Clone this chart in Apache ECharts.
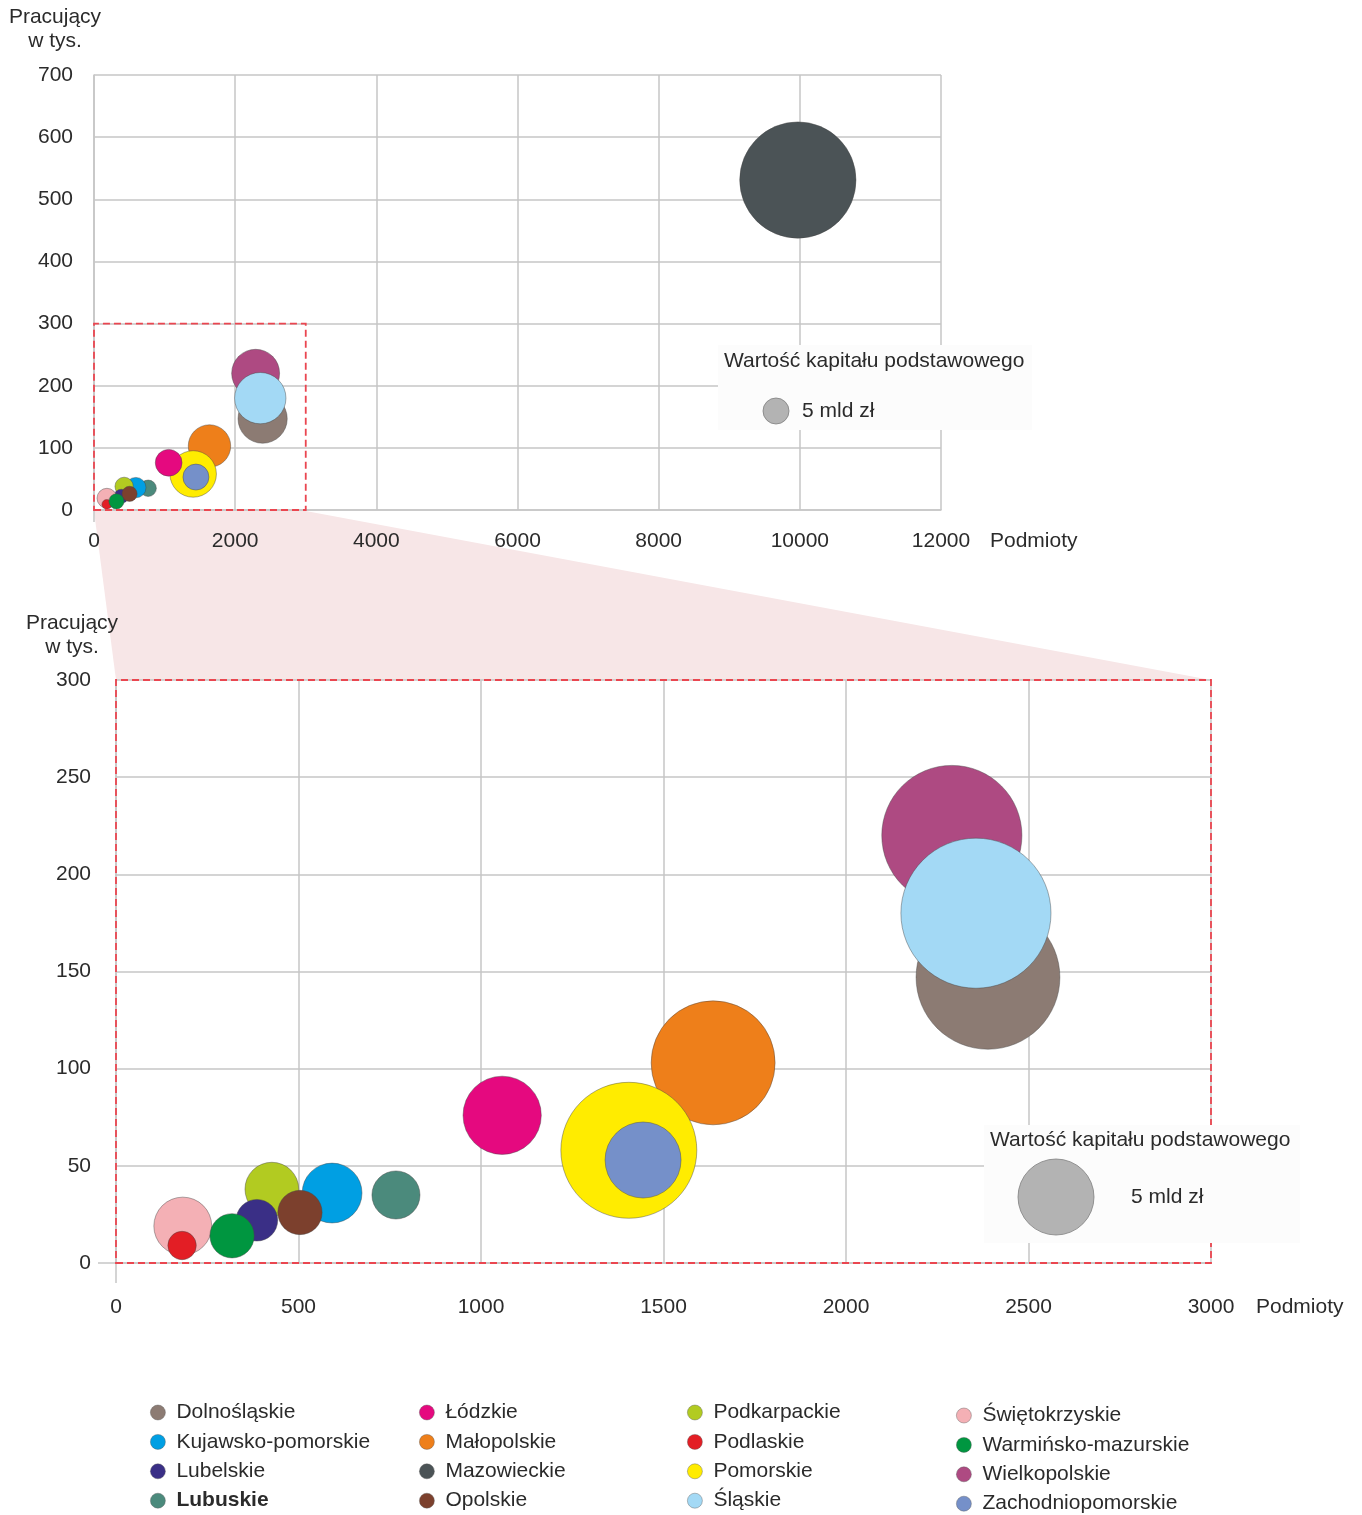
<!DOCTYPE html>
<html>
<head>
<meta charset="utf-8">
<script src="https://cdn.jsdelivr.net/npm/echarts@6/dist/echarts.min.js"></script>
<style>
html,body{margin:0;padding:0;background:#fff;}
#main{width:1362px;height:1515px;}
</style>
</head>
<body>
<div id="main"></div>
<script>
// ---------- DATA ----------
const regions = ['Dolnośląskie','Kujawsko-pomorskie','Lubelskie','Lubuskie',
  'Łódzkie','Małopolskie','Mazowieckie','Opolskie',
  'Podkarpackie','Podlaskie','Pomorskie','Śląskie',
  'Świętokrzyskie','Warmińsko-mazurskie','Wielkopolskie','Zachodniopomorskie'];
const colors = ['#8C7B73','#009FE3','#3A2F86','#4B8A7C',
  '#E5097F','#EE7F1A','#4B5356','#7C402D',
  '#B2CB21','#E31E25','#FFEC00','#A3D9F5',
  '#F4B0B5','#009640','#AE4A82','#7590C9'];
// Podmioty (number of entities)
const entities = [2389, 592, 386, 767, 1058, 1636, 9972, 504, 427, 181, 1405, 2356, 183, 318, 2290, 1444];
// Pracujący w tys. (employees, thousands)
const employees = [147, 36, 22, 35, 76, 103, 531, 26, 38, 9, 58, 180, 19, 14, 220, 53];
// Wartość kapitału podstawowego, mld zł (bubble size)
const capital = [17.9, 3.1, 1.5, 2.0, 5.3, 13.3, 100, 1.7, 2.5, 0.7, 16.0, 19.5, 2.9, 1.7, 17.0, 5.0];
const refCapital = 5; // bubble legend: 5 mld zł
const drawOrder = ['Dolnośląskie','Wielkopolskie','Śląskie','Małopolskie','Pomorskie','Zachodniopomorskie',
  'Łódzkie','Mazowieckie','Lubuskie','Kujawsko-pomorskie','Podkarpackie','Lubelskie','Opolskie',
  'Świętokrzyskie','Podlaskie','Warmińsko-mazurskie'];
const topXTicks = {min:0, max:12000, interval:2000};
const topYTicks = {min:0, max:700, interval:100};
const botXTicks = {min:0, max:3000, interval:500};
const botYTicks = {min:0, max:300, interval:50};
const zoomBox = [[0,0],[3000,300]];

// ---------- STYLE ----------
const FONT = '"Liberation Sans", Arial, sans-serif';
const FS = 21;
const TXT = '#2b2b2b';
const GRIDC = '#c6c6c6';
const R_TOP = 13, R_BOT = 38; // radius of the 5 mld zł bubble in each panel
function radius(R, v){ return R*Math.sqrt(v/refCapital); }

const chart = echarts.init(document.getElementById('main'), null, {renderer:'canvas'});

function axisCommon(t, margin){
  return {
    type:'value', min:t.min, max:t.max, interval:t.interval,
    axisLine:{show:true, lineStyle:{color:GRIDC, width:1.5}},
    axisTick:{show:false},
    splitLine:{show:true, lineStyle:{color:GRIDC, width:1.5}},
    axisLabel:{color:TXT, fontSize:FS, fontFamily:FONT, margin:margin, formatter: v => String(v)}
  };
}

const series = [];
drawOrder.forEach((name, k) => {
  const i = regions.indexOf(name);
  const base = {
    name: name, type:'scatter', symbol:'circle',
    itemStyle:{color:colors[i], borderColor:'rgba(70,70,70,0.55)', borderWidth:0.8, opacity:1},
    emphasis:{disabled:true},
    data:[[entities[i], employees[i], capital[i]]]
  };
  const top = Object.assign({}, base, {xAxisIndex:0, yAxisIndex:0,
    symbolSize: v => 2*radius(R_TOP, v[2])});
  const bot = Object.assign({}, base, {xAxisIndex:1, yAxisIndex:1,
    symbolSize: v => 2*radius(R_BOT, v[2])});
  if (k === 0) {
    const ma = {silent:true, z:5,
      itemStyle:{color:'rgba(0,0,0,0)', borderColor:'#EA4650', borderWidth:1.8, borderType:[7,4]},
      data:[[{coord:zoomBox[0]},{coord:zoomBox[1]}]]};
    top.markArea = ma;
    bot.markArea = JSON.parse(JSON.stringify(ma));
  }
  series.push(top, bot);
});

const legendCols = [regions.slice(0,4), regions.slice(4,8), regions.slice(8,12), regions.slice(12,16)];
const legendLeft = [150, 419, 687, 956];
const legendTop = [1402, 1402, 1402, 1405];
const legends = legendCols.map((col, c) => ({
  data: col.map(n => ({name:n, icon:'circle'})),
  orient:'vertical', left:legendLeft[c], top:legendTop[c], padding:0,
  itemWidth:15, itemHeight:15, itemGap:8.4, selectedMode:false,
  itemStyle:{borderColor:'rgba(90,90,90,0.5)', borderWidth:0.8},
  formatter: n => n === 'Lubuskie' ? '{b|' + n + '}' : n,
  textStyle:{color:TXT, fontSize:FS, fontFamily:FONT, lineHeight:20, padding:[0,0,0,6],
    rich:{b:{fontWeight:'bold', fontSize:FS, fontFamily:FONT, color:TXT, lineHeight:20}}}
}));

chart.setOption({
  animation:false,
  backgroundColor:'#fff',
  grid:[
    {left:94, top:75, width:847, height:435},
    {left:116, top:680, width:1095, height:583}
  ],
  xAxis:[
    Object.assign(axisCommon(topXTicks, 21), {gridIndex:0}),
    Object.assign(axisCommon(botXTicks, 34), {gridIndex:1})
  ],
  yAxis:[
    Object.assign(axisCommon(topYTicks, 21), {gridIndex:0}),
    Object.assign(axisCommon(botYTicks, 25), {gridIndex:1})
  ],
  legend: legends,
  series: series
});

// ---------- graphics: connector, axis titles, bubble-size legends ----------
const a = chart.convertToPixel({gridIndex:0}, [zoomBox[0][0], zoomBox[0][1]]);
const b = chart.convertToPixel({gridIndex:0}, [zoomBox[1][0], zoomBox[0][1]]);
const c = chart.convertToPixel({gridIndex:1}, [zoomBox[1][0], zoomBox[1][1]]);
const d = chart.convertToPixel({gridIndex:1}, [zoomBox[0][0], zoomBox[1][1]]);
const topEnd = chart.convertToPixel({gridIndex:0}, [topXTicks.max, topYTicks.min]);
const botEnd = chart.convertToPixel({gridIndex:1}, [botXTicks.max, botYTicks.min]);
const topO = chart.convertToPixel({gridIndex:0}, [topXTicks.min, topYTicks.min]);
const botO = chart.convertToPixel({gridIndex:1}, [botXTicks.min, botYTicks.min]);

function sizeLegend(x, y, w, h, titleX, titleY, cx, cy, r, lx){
  return [
    {type:'rect', z:100, shape:{x:x, y:y, width:w, height:h}, style:{fill:'#fcfcfc'}},
    {type:'text', z:101, x:titleX, y:titleY, style:{text:'Wartość kapitału podstawowego', fill:TXT,
      font:FS + 'px ' + FONT, textVerticalAlign:'middle'}},
    {type:'circle', z:101, shape:{cx:cx, cy:cy, r:r}, style:{fill:'#b3b3b3', stroke:'#7f7f7f', lineWidth:0.8}},
    {type:'text', z:101, x:lx, y:cy, style:{text:'5 mld zł', fill:TXT, font:FS + 'px ' + FONT, textVerticalAlign:'middle'}}
  ];
}
function txt(x, y, t, align){
  return {type:'text', x:x, y:y, style:{text:t, fill:TXT, font:FS + 'px ' + FONT, textAlign:align || 'center', textVerticalAlign:'middle'}};
}
function stub(x1, y1, x2, y2){
  return {type:'line', silent:true, shape:{x1:x1, y1:y1, x2:x2, y2:y2}, style:{stroke:GRIDC, lineWidth:1.5}};
}

chart.setOption({
  graphic:[
    {type:'polygon', z:-1, silent:true,
      shape:{points:[[a[0], a[1]+1],[b[0], b[1]+1],[c[0], c[1]],[d[0], d[1]]]},
      style:{fill:'#f7e6e7'}},
    stub(topO[0], topO[1], topO[0], topO[1] + 12),
    stub(botO[0], botO[1], botO[0], botO[1] + 20),
    stub(botO[0], botO[1], botO[0] - 18, botO[1]),
    txt(55, 17, 'Pracujący'), txt(55, 41, 'w tys.'),
    txt(72, 623, 'Pracujący'), txt(72, 647, 'w tys.'),
    txt(topEnd[0] + 49, topEnd[1] + 31, 'Podmioty', 'left'),
    txt(botEnd[0] + 45, botEnd[1] + 44, 'Podmioty', 'left')
  ].concat(
    sizeLegend(718, 345, 314, 85, 724, 361, 776, 411, radius(R_TOP, refCapital), 802),
    sizeLegend(984, 1125, 316, 118, 990, 1140, 1056, 1197, radius(R_BOT, refCapital), 1131)
  )
});
</script>
</body>
</html>
